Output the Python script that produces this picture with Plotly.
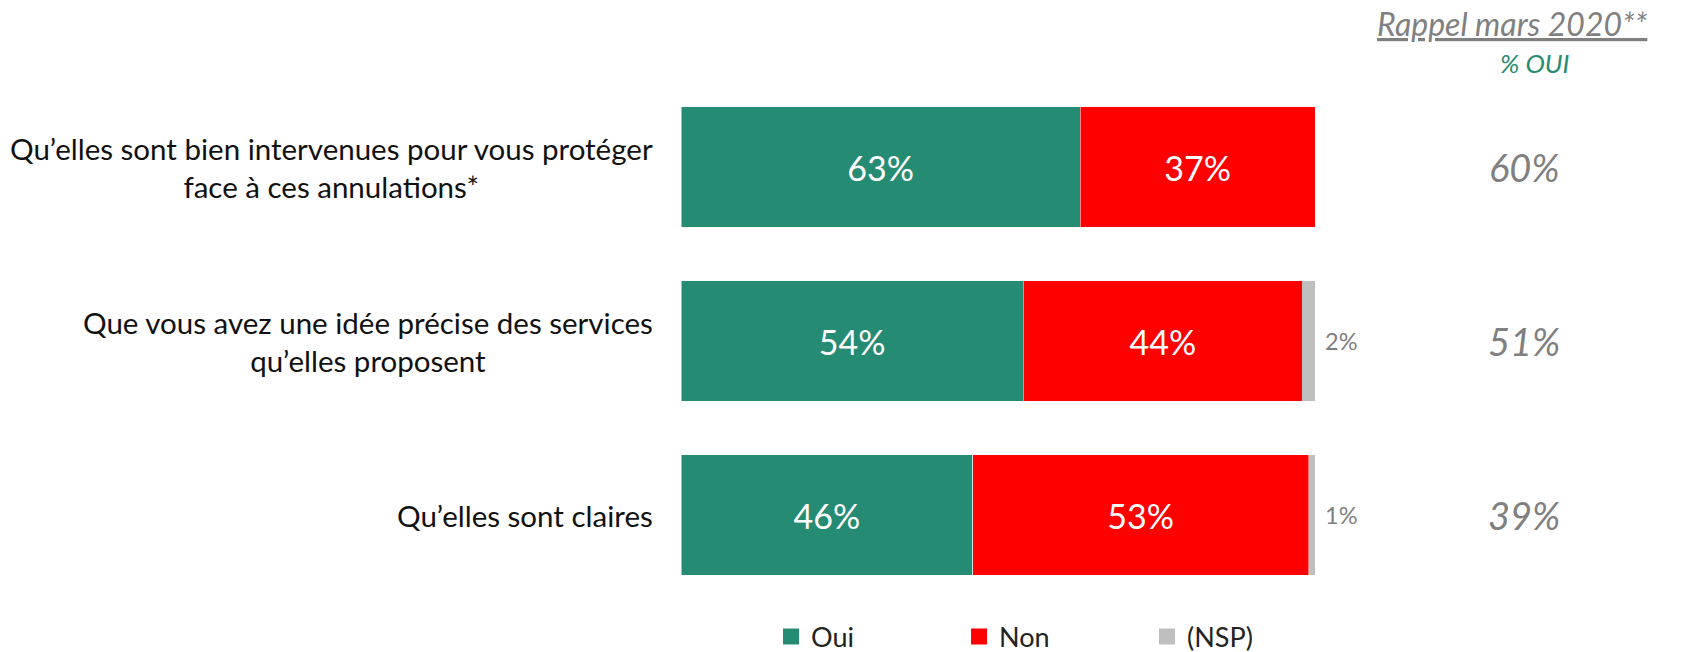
import plotly.graph_objects as go

questions = [
    "Qu’elles sont bien intervenues pour vous protéger<br>face à ces annulations*",
    "Que vous avez une idée précise des services<br>qu’elles proposent",
    "Qu’elles sont claires",
]
oui = [63, 54, 46]
non = [37, 44, 53]
nsp = [0, 2, 1]
rappel = [60, 51, 39]
series_names = ["Oui", "Non", "(NSP)"]

GREEN = "#268B73"
RED = "#FF0000"
GREY = "#BFBFBF"
TXT_GREY = "#808080"
FONT = "Lato"
colors = [GREEN, RED, GREY]

ids = list(range(len(questions)))

fig = go.Figure()
fig.add_trace(go.Bar(y=ids, x=oui, name="Oui", orientation="h", marker=dict(color=GREEN, line=dict(width=0.5, color="white")),
                     text=[f"{v}%" for v in oui], textposition="inside", insidetextanchor="middle",
                     textfont=dict(color="white", size=34, family=FONT), width=0.69, showlegend=False))
fig.add_trace(go.Bar(y=ids, x=non, name="Non", orientation="h", marker=dict(color=RED, line=dict(width=0.5, color="white")),
                     text=[f"{v}%" for v in non], textposition="inside", insidetextanchor="middle",
                     textfont=dict(color="white", size=34, family=FONT), width=0.69, showlegend=False))
fig.add_trace(go.Bar(y=ids, x=nsp, name="(NSP)", orientation="h", marker=dict(color=GREY, line=dict(width=0)),
                     textposition="none", width=0.69, showlegend=False))

# legend entries with larger square swatches
for name, col in zip(series_names, colors):
    fig.add_trace(go.Scatter(x=[None], y=[None], mode="markers", name=name,
                             marker=dict(symbol="square", size=17, color=col), showlegend=True))

annotations = []
for i, q in enumerate(questions):
    annotations.append(dict(x=0, xref="paper", y=i, yref="y", text=q, showarrow=False,
                            xanchor="right", xshift=-26, align="center",
                            font=dict(size=29.5, family=FONT, color="#111111")))
    if nsp[i] > 0:
        total = oui[i] + non[i] + nsp[i]
        annotations.append(dict(x=total, xref="x", y=i, yref="y", text=f"{nsp[i]}%", showarrow=False,
                                xanchor="left", xshift=8, font=dict(size=23.5, family=FONT, color=TXT_GREY)))
    annotations.append(dict(x=1.33, xref="paper", y=i, yref="y", text=f"<i>{rappel[i]}%</i>", showarrow=False,
                            xanchor="center", font=dict(size=38, family=FONT, color=TXT_GREY)))

annotations.append(dict(x=(1512 - 681) / 634, xref="paper", y=1 + (80 - 24) / 522, yref="paper",
                        text="<u><i>Rappel mars 2020**</i></u>",
                        showarrow=False, xanchor="center", yanchor="middle",
                        font=dict(size=32, family=FONT, color=TXT_GREY)))
annotations.append(dict(x=(1535 - 681) / 634, xref="paper", y=1 + (80 - 63) / 522, yref="paper",
                        text="<i>% OUI</i>", showarrow=False,
                        xanchor="center", yanchor="middle", font=dict(size=26, family=FONT, color=GREEN)))

fig.update_layout(
    width=1700, height=652,
    margin=dict(l=681, r=385, t=80, b=50, autoexpand=False),
    paper_bgcolor="white", plot_bgcolor="white",
    barmode="stack",
    xaxis=dict(range=[0, 100], visible=False),
    yaxis=dict(range=[2.5, -0.5], visible=False),
    showlegend=True,
    legend=dict(orientation="h", x=0.142, y=-0.067, xanchor="left", yanchor="middle",
                font=dict(size=27, family=FONT, color="#222222"), entrywidth=143, traceorder="normal"),
    annotations=annotations,
)

fig.write_html("out.html", config={"displayModeBar": False},
               post_script="document.body.style.margin='0';document.body.style.overflow='hidden';")
